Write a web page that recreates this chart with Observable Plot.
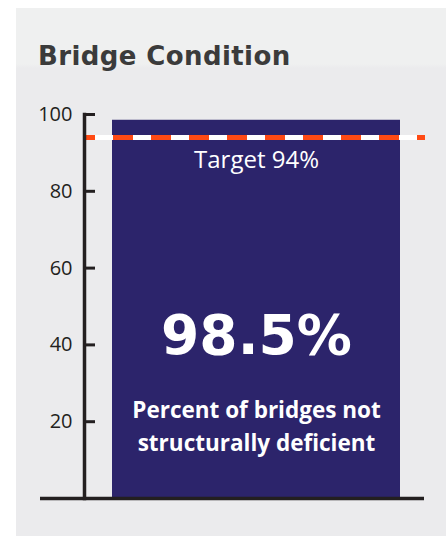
<!DOCTYPE html>
<html>
<head>
<meta charset="utf-8">
<script src="https://cdn.jsdelivr.net/npm/d3@7"></script>
<script src="https://cdn.jsdelivr.net/npm/@observablehq/plot@0.6"></script>
<style>
  body { margin: 0; background: #ffffff; }
  #wrap { position: relative; width: 446px; height: 537px; overflow: hidden; }
  #panel { position: absolute; left: 16px; top: 8px; right: 0; bottom: 1px;
           background: linear-gradient(#eff0f0 0px, #eff0f0 56px, #ebebed 60px, #ebebed 100%); }
  #title { position: absolute; left: 38px; top: 43px; margin: 0;
           font: bold 26px/26px "DejaVu Sans", sans-serif; color: #3b3b3b; white-space: nowrap;
           letter-spacing: 0.4px; }
  #chart { position: absolute; left: 0; top: 0; }
</style>
</head>
<body>
<div id="wrap">
  <div id="panel"></div>
  <div id="title">Bridge Condition</div>
  <div id="chart"></div>
</div>
<script>
const categories = ["Bridges"];
const values = [98.5];
const targetValues = [94];
const yDomain = [0, 100];
const yTicks = [20, 40, 60, 80, 100];
const targetLabel = ["Target 94%"];
const bigLabel = ["98.5%"];
const descLabel = ["Percent of bridges not\nstructurally deficient"];

const data = categories.map((c, i) => ({category: c, value: values[i]}));
const font = "'Open Sans', sans-serif";

const chart = Plot.plot({
  width: 446,
  height: 537,
  marginTop: 114,
  marginBottom: 39,
  marginLeft: 84,
  marginRight: 22,
  style: {background: "transparent", fontFamily: font},
  x: {domain: categories, range: [112, 400], padding: 0, axis: null},
  y: {domain: yDomain, axis: null},
  marks: [
    Plot.barY(data, {x: "category", y: "value", fill: "#2c246b"}),
    Plot.ruleY(targetValues, {stroke: "#ffffff", strokeWidth: 5, insetLeft: 2, insetRight: -1}),
    Plot.ruleY(targetValues, {stroke: "#ff4a14", strokeWidth: 5, insetLeft: 2, insetRight: -1,
      strokeDasharray: "20,18", strokeDashoffset: 11}),
    Plot.ruleY([yDomain[0]], {stroke: "#231f20", strokeWidth: 3.5, insetLeft: -44}),
    Plot.frame({anchor: "left", stroke: "#231f20", strokeWidth: 3.5}),
    Plot.axisY(yTicks, {tickSize: -11, tickPadding: 23, strokeWidth: 3, stroke: "#231f20",
      fill: "#231f20", fontSize: 20, label: null, fontFamily: font}),
    Plot.text(targetLabel, {x: () => categories[0], y: () => targetValues[0], text: d => d,
      dy: 23, fill: "#ffffff", fontSize: 24, lineAnchor: "middle", fontFamily: font}),
    Plot.text(bigLabel, {x: () => categories[0], frameAnchor: "middle", text: d => d,
      dy: 30, fill: "#ffffff", fontSize: 55, fontWeight: "bold", lineAnchor: "middle",
      fontFamily: "'DejaVu Sans', sans-serif"}),
    Plot.text(descLabel, {x: () => categories[0], frameAnchor: "bottom", text: d => d,
      dy: -75, fill: "#ffffff", fontSize: 22.5, fontWeight: "bold", lineAnchor: "middle",
      lineHeight: 1.47, fontFamily: font})
  ]
});
document.getElementById("chart").appendChild(chart);
</script>
</body>
</html>
